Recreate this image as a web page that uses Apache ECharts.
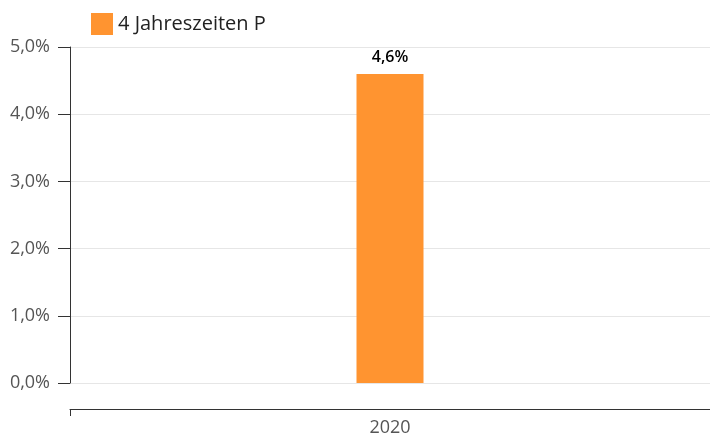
<!DOCTYPE html>
<html>
<head>
<meta charset="utf-8">
<script src="https://cdn.jsdelivr.net/npm/echarts@6/dist/echarts.min.js"></script>
<style>
  html, body { margin: 0; padding: 0; background: #fff; }
  #chart { width: 710px; height: 439px; }
</style>
</head>
<body>
<div id="chart"></div>
<script>
  const categories = ['2020'];
  const seriesName = '4 Jahreszeiten P';
  const values = [4.6];
  const fmt = v => v.toFixed(1).replace('.', ',') + '%';

  const chart = echarts.init(document.getElementById('chart'));
  chart.setOption({
    animation: false,
    textStyle: { fontFamily: '"Open Sans", "Noto Sans", sans-serif' },
    legend: {
      left: 86,
      top: 8,
      itemWidth: 22,
      itemHeight: 22,
      itemGap: 8,
      icon: 'rect',
      textStyle: { fontSize: 20, color: '#222' },
      data: [seriesName]
    },
    grid: { left: 70, right: 0, top: 47, bottom: 56 },
    xAxis: {
      type: 'category',
      data: categories,
      offset: 26,
      axisLine: { onZero: false, lineStyle: { color: '#333', width: 1 } },
      axisTick: { show: true, interval: 0, length: 7, lineStyle: { color: '#333' } },
      axisLabel: { fontSize: 18, color: '#555', margin: 10 }
    },
    yAxis: {
      type: 'value',
      min: 0,
      max: 5,
      interval: 1,
      axisLine: { show: true, lineStyle: { color: '#333' } },
      axisTick: { show: true, length: 12, lineStyle: { color: '#333' } },
      axisLabel: { fontSize: 18, color: '#555', margin: 20, formatter: fmt },
      splitLine: { lineStyle: { color: '#e6e6e6' } }
    },
    series: [{
      name: seriesName,
      type: 'bar',
      data: values,
      barWidth: 67,
      itemStyle: { color: '#ff9430' },
      label: {
        show: true,
        position: 'top',
        distance: 8,
        fontSize: 16,
        fontWeight: 600,
        color: '#000',
        textBorderColor: '#fff',
        textBorderWidth: 2,
        formatter: p => fmt(p.value)
      }
    }]
  });
</script>
</body>
</html>
